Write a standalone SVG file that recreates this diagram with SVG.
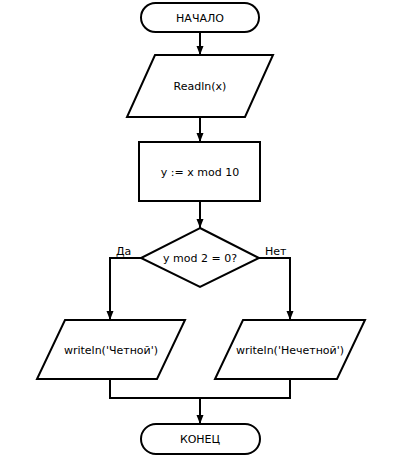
<svg xmlns="http://www.w3.org/2000/svg" width="400" height="456" viewBox="0 0 400 456">
<style>
.s{fill:#fff;stroke:#000;stroke-width:2}
.c{fill:none;stroke:#000;stroke-width:2}
text{font-family:"DejaVu Sans",Verdana,sans-serif;font-size:11px;fill:#000}
.m{text-anchor:middle;dominant-baseline:central}
</style>
<defs>
<marker id="a" markerWidth="10" markerHeight="10" refX="9" refY="5" orient="auto" markerUnits="userSpaceOnUse">
<path d="M0,1.5 L9,5 L0,8.5 Z" fill="#000"/>
</marker>
</defs>
<rect width="400" height="456" fill="#fff"/>
<g id="connectors">
<path class="c" d="M200,32 V55" marker-end="url(#a)"/>
<path class="c" d="M200,117 V142" marker-end="url(#a)"/>
<path class="c" d="M200,201 V228" marker-end="url(#a)"/>
<path class="c" d="M141,258 H110 V320" marker-end="url(#a)"/>
<path class="c" d="M259,258 H290 V320" marker-end="url(#a)"/>
<path class="c" d="M110,379 V398 H290 V379"/>
<path class="c" d="M200,398 V424" marker-end="url(#a)"/>
<text x="116" y="255">Да</text>
<text x="265" y="255">Нет</text>
</g>
<g id="start">
<rect class="s" x="141" y="3" width="118" height="29" rx="14.5"/>
<text class="m" x="200" y="18">НАЧАЛО</text>
</g>
<g id="read">
<polygon class="s" points="155,55 273,55 245,117 127,117"/>
<text class="m" x="200" y="86">Readln(x)</text>
</g>
<g id="assign">
<rect class="s" x="139" y="142" width="121" height="59"/>
<text class="m" x="200" y="172">y := x mod 10</text>
</g>
<g id="cond">
<polygon class="s" points="200,228 259,258 200,287 141,258"/>
<text class="m" x="200" y="258">y mod 2 = 0?</text>
</g>
<g id="even">
<polygon class="s" points="65,320 185,320 157,379 37,379"/>
<text class="m" x="111" y="350">writeln('Четной')</text>
</g>
<g id="odd">
<polygon class="s" points="243,320 365,320 337,379 215,379"/>
<text class="m" x="290" y="350">writeln('Нечетной')</text>
</g>
<g id="end">
<rect class="s" x="141" y="424" width="119" height="30" rx="15"/>
<text class="m" x="200" y="439">КОНЕЦ</text>
</g>
</svg>
